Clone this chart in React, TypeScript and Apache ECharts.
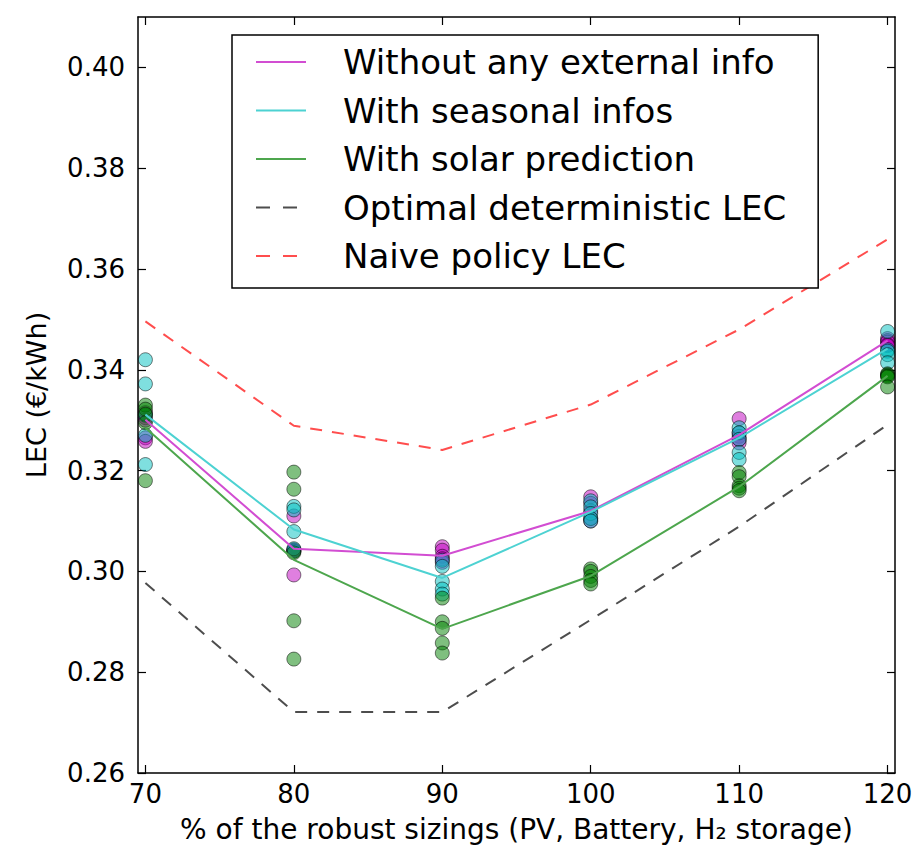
import React, { useEffect, useRef } from "react";
import * as echarts from "echarts";

const xCats = [70, 80, 90, 100, 110, 120];
const yTicks = [0.26, 0.28, 0.3, 0.32, 0.34, 0.36, 0.38, 0.4];

const seriesNames = [
  "Without any external info",
  "With seasonal infos",
  "With solar prediction",
  "Optimal deterministic LEC",
  "Naive policy LEC",
];

// mean lines
const noInfoLine = [0.3301, 0.3045, 0.3031, 0.312, 0.3271, 0.3458];
const seasonalLine = [0.3311, 0.3083, 0.2987, 0.3118, 0.3265, 0.3442];
const solarLine = [0.3285, 0.3023, 0.2886, 0.2991, 0.3168, 0.3388];
const optimalLine = [0.2977, 0.2721, 0.2721, 0.2904, 0.3089, 0.3291];
const naiveLine = [0.3496, 0.3289, 0.3241, 0.3331, 0.348, 0.3659];

// individual runs per sizing
const noInfoRuns = [
  [0.3315, 0.3305, 0.33, 0.3265, 0.3258],
  [0.311, 0.3043, 0.304, 0.3042, 0.2993],
  [0.3049, 0.3042, 0.303, 0.3025, 0.3018],
  [0.3148, 0.3135, 0.312, 0.3105, 0.31],
  [0.3303, 0.3275, 0.3268, 0.3262, 0.3255],
  [0.3462, 0.3458, 0.3455, 0.345, 0.3448],
];
const seasonalRuns = [
  [0.342, 0.3372, 0.331, 0.327, 0.3212],
  [0.3129, 0.3122, 0.3079, 0.304, 0.3045],
  [0.3022, 0.301, 0.298, 0.2965, 0.2955],
  [0.314, 0.3128, 0.3115, 0.3105, 0.31],
  [0.3285, 0.3275, 0.3262, 0.3236, 0.3222],
  [0.3476, 0.344, 0.3437, 0.343, 0.3414],
];
const solarRuns = [
  [0.333, 0.3322, 0.3312, 0.3295, 0.318],
  [0.3197, 0.3163, 0.3037, 0.2902, 0.2826],
  [0.2947, 0.29, 0.2887, 0.2858, 0.2838],
  [0.3005, 0.3, 0.299, 0.2982, 0.2975],
  [0.3196, 0.3188, 0.317, 0.3165, 0.316],
  [0.3392, 0.339, 0.3388, 0.3386, 0.3366],
];

const FONT = "DejaVu Sans";

function pairs(vals: number[]) {
  return vals.map((v, i) => [xCats[i], v]);
}
function runPairs(runs: number[][]) {
  const out: number[][] = [];
  runs.forEach((arr, i) => arr.forEach((v) => out.push([xCats[i], v])));
  return out;
}

export default function App() {
  const ref = useRef<HTMLDivElement>(null);
  useEffect(() => {
    if (!ref.current) return;
    const chart = echarts.init(ref.current, null, { renderer: "svg" });
    const axisLine = { show: true, lineStyle: { color: "#000", width: 1.5 } };
    const tickX = { show: true, inside: true, length: 8, customValues: xCats, lineStyle: { color: "#000", width: 1.2 } };
    const tickY = { show: true, inside: true, length: 8, customValues: yTicks, lineStyle: { color: "#000", width: 1.2 } };
    const scatter = (name: string, runs: number[][], color: string) => ({
      type: "scatter",
      name: name + " runs",
      data: runPairs(runs),
      symbolSize: 14,
      z: 2,
      itemStyle: { color, opacity: 0.5, borderColor: "#000", borderWidth: 1 },
    });
    const line = (name: string, vals: number[], color: string, dashed = false) => ({
      type: "line",
      name,
      data: pairs(vals),
      symbol: "none",
      z: 3,
      lineStyle: { color, width: 2, type: dashed ? [12, 10] : "solid" },
      itemStyle: { color },
    });
    chart.setOption({
      animation: false,
      grid: { left: 138, right: 23, top: 17, bottom: 76 },
      xAxis: [
        {
          type: "value",
          min: 69.5,
          max: 120.5,
          position: "bottom",
          axisLine,
          axisTick: tickX,
          splitLine: { show: false },
          axisLabel: { customValues: xCats, fontFamily: FONT, fontSize: 26, color: "#000", margin: 8 },
          name: "% of the robust sizings (PV, Battery, H\u2082 storage)",
          nameLocation: "middle",
          nameGap: 42,
          nameTextStyle: { fontFamily: FONT, fontSize: 28, color: "#000" },
        },
        {
          type: "value",
          min: 69.5,
          max: 120.5,
          position: "top",
          axisLine,
          axisTick: tickX,
          splitLine: { show: false },
          axisLabel: { show: false },
        },
      ],
      yAxis: [
        {
          type: "value",
          min: 0.26,
          max: 0.41,
          position: "left",
          axisLine,
          axisTick: tickY,
          splitLine: { show: false },
          axisLabel: {
            customValues: yTicks,
            formatter: (v: number) => v.toFixed(2),
            fontFamily: FONT,
            fontSize: 26,
            color: "#000",
            margin: 13,
          },
          name: "LEC (\u20ac/kWh)",
          nameLocation: "middle",
          nameGap: 88,
          nameRotate: 90,
          nameTextStyle: { fontFamily: FONT, fontSize: 27, color: "#000" },
        },
        {
          type: "value",
          min: 0.26,
          max: 0.41,
          position: "right",
          axisLine,
          axisTick: tickY,
          splitLine: { show: false },
          axisLabel: { show: false },
        },
      ],
      legend: {
        data: [
          { name: seriesNames[0] },
          { name: seriesNames[1] },
          { name: seriesNames[2] },
          { name: seriesNames[3], lineStyle: { type: [14, 13] } },
          { name: seriesNames[4], lineStyle: { type: [14, 13] } },
        ],
        orient: "vertical",
        left: 232,
        top: 35,
        z: 10,
        padding: [10, 32, 15, 23],
        itemGap: 14.5,
        itemWidth: 50,
        itemHeight: 8,
        itemStyle: { opacity: 0 },
        backgroundColor: "#fff",
        borderColor: "#000",
        borderWidth: 1.5,
        borderRadius: 0,
        selectedMode: false,
        textStyle: { fontFamily: FONT, fontSize: 34, color: "#000", padding: [0, 0, 0, 32] },
      },
      series: [
        scatter(seriesNames[0], noInfoRuns, "#bf00bf"),
        scatter(seriesNames[1], seasonalRuns, "#00bfbf"),
        scatter(seriesNames[2], solarRuns, "#008000"),
        line(seriesNames[0], noInfoLine, "#d24dd2"),
        line(seriesNames[1], seasonalLine, "#4dd2d2"),
        line(seriesNames[2], solarLine, "#4da64d"),
        line(seriesNames[3], optimalLine, "#4d4d4d", true),
        line(seriesNames[4], naiveLine, "#ff4d4d", true),
      ],
    });
    return () => chart.dispose();
  }, []);
  return <div ref={ref} style={{ position: "fixed", left: 0, top: 0, width: 918, height: 849, background: "#fff" }} />;
}
